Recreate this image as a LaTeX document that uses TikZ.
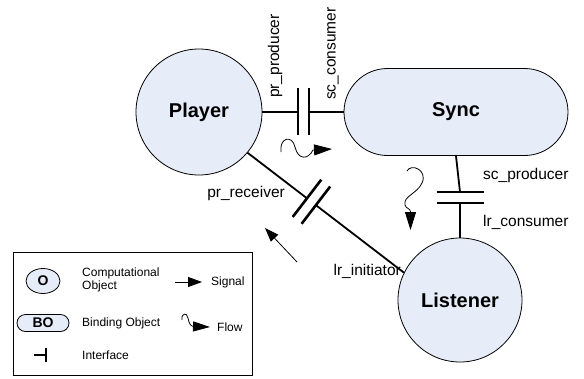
\documentclass[tikz,border=0pt]{standalone}
\usepackage{fontspec}
\setmainfont{Liberation Sans}
\usetikzlibrary{arrows.meta,calc,shapes.geometric}
\definecolor{objfill}{RGB}{231,237,248}
\tikzset{
  obj/.style={circle, draw=black, line width=0.8pt, fill=objfill, inner sep=0pt,
              font=\fontsize{20}{22}\selectfont\bfseries},
  bind/.style={rectangle, draw=black, line width=0.8pt, fill=objfill, inner sep=0pt,
               font=\fontsize{20}{22}\selectfont\bfseries},
  wire/.style={line width=1.8pt},
  plate/.style={line width=2.6pt},
  lbl/.style={inner sep=0pt, font=\fontsize{15.5}{17}\selectfont},
  small/.style={inner sep=0pt, font=\fontsize{12}{14}\selectfont, align=left},
  flowtip/.style={-{Triangle[length=18pt,width=11pt]}, line width=0.8pt},
  sigtip/.style={-{Triangle[length=14pt,width=10pt]}, line width=0.8pt},
}
\begin{document}
\begin{tikzpicture}[x=1pt, y=-1pt]
\useasboundingbox (0,0) rectangle (584,378);

% computational and binding objects
\node[obj, minimum size=126pt] (player) at (199,112) {Player};
\node[bind, minimum width=224pt, minimum height=87pt, rounded corners=43.5pt] (sync) at (456,112) {Sync};
\node[obj, minimum size=124pt] (listener) at (460,300) {Listener};

% Player -- Sync binding with its interface pair
\coordinate (ps1) at (298,112);
\coordinate (ps2) at (309,112);
\draw[wire] (player.east) -- (ps1);
\draw[wire] (ps2) -- (sync.west);
\draw[plate] (298,88) -- (298,135);
\draw[plate] (309,88) -- (309,135);

% Sync -- Listener binding
\coordinate (sl1) at (460,192);
\coordinate (sl2) at (460,203);
\draw[wire] (sync.south) -- (sl1);
\draw[wire] (sl2) -- (listener.north);
\draw[plate] (436.5,192) -- (483.5,192);
\draw[plate] (436.5,203) -- (483.5,203);

% Player -- Listener binding (diagonal)
\path (player.-40) -- (listener.154)
  coordinate[pos=0.38] (pl1) coordinate[pos=0.437] (pl2);
\draw[wire] (player.-40) -- (pl1);
\draw[wire] (pl2) -- (listener.154);
\draw[plate] ($(pl1)!23.5pt!90:(pl2)$) -- ($(pl1)!23.5pt!-90:(pl2)$);
\draw[plate] ($(pl2)!23.5pt!90:(pl1)$) -- ($(pl2)!23.5pt!-90:(pl1)$);

% interface labels
\node[lbl, rotate=90, anchor=west] (lpp) at (275,98) {pr\_producer};
\node[lbl, rotate=90, anchor=west] (lsc) at (333,100) {sc\_consumer};
\node[lbl, anchor=west] (lsp) at (483,175) {sc\_producer};
\node[lbl, anchor=west] (llc) at (483,222) {lr\_consumer};
\node[lbl, anchor=east] (lpr) at (285,193) {pr\_receiver};
\node[lbl, anchor=east] (lli) at (401,271) {lr\_initiator};

% flows and signal
\coordinate (f1a) at (281,152);
\coordinate (f1b) at (332,149);
\draw[flowtip] (f1a) .. controls (279,138) and (292,134) .. (295,147)
  .. controls (298,160) and (308,160) .. (313,150) -- (f1b);
\coordinate (f2a) at (407,171);
\coordinate (f2b) at (410.5,230);
\draw[flowtip] (f2a) .. controls (411,163) and (428,170) .. (422,183)
  .. controls (417,194) and (403,196) .. (405,205)
  .. controls (406,209) and (410.5,208) .. (410.5,212) -- (f2b);
\coordinate (s1a) at (297,262);
\coordinate (s1b) at (265,228);
\draw[sigtip] (s1a) -- (s1b);

% legend
\node[draw=black, line width=0.8pt, minimum width=239pt, minimum height=123pt, inner sep=0pt] (legend) at (132.5,313.5) {};
\node[obj, ellipse, minimum width=34pt, minimum height=25pt, font=\fontsize{14}{16}\selectfont\bfseries] (lego) at (43,281) {O};
\node[bind, minimum width=52pt, minimum height=17pt, rounded corners=8.5pt, font=\fontsize{14}{16}\selectfont\bfseries] (legbo) at (43,323) {BO};
\coordinate (ifa) at (34,355);
\coordinate (ifb) at (46,355);
\draw[wire] (ifa) -- (ifb);
\draw[plate] (46,348) -- (46,362);
\node[small, anchor=west] (tco) at (82,280) {Computational\\[-1pt]Object};
\node[small, anchor=west] (tbo) at (82,323) {Binding Object};
\node[small, anchor=west] (tif) at (82,355) {Interface};
\coordinate (lsa) at (175,282);
\coordinate (lsb) at (202,282);
\draw[sigtip] (lsa) -- (lsb);
\node[small, anchor=west] (tsig) at (211,282) {Signal};
\coordinate (lfa) at (182,320);
\coordinate (lfb) at (210,327);
\draw[-{Triangle[length=17pt,width=10pt]}, line width=0.8pt] (lfa) .. controls (181,313) and (187,312) .. (188,318)
  .. controls (189,324) and (191,326.5) .. (194,326.5) -- (lfb);
\node[small, anchor=west] (tflow) at (217,327) {Flow};
\end{tikzpicture}
\end{document}
